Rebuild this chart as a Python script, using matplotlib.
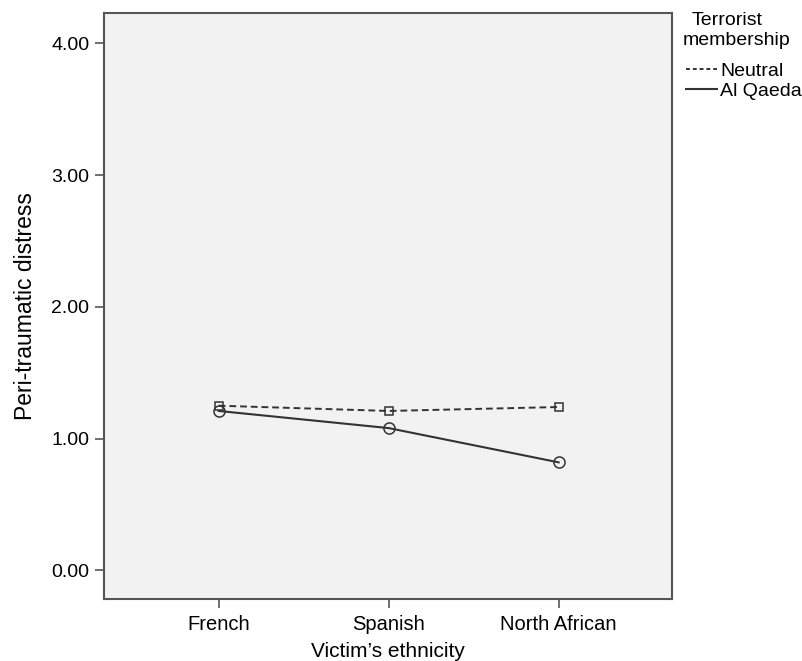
import matplotlib
matplotlib.use('Agg')
import matplotlib.pyplot as plt
from matplotlib.lines import Line2D

# ethnicity groups on the x axis
ethnicity = ['French', 'Spanish', 'North African']

# mean peri-traumatic distress per terrorist membership
neutral = [1.25, 1.21, 1.24]
al_qaeda = [1.21, 1.08, 0.82]

y_ticks = [0.0, 1.0, 2.0, 3.0, 4.0]

plt.rcParams['font.family'] = ['Liberation Sans', 'DejaVu Sans']

fig = plt.figure(figsize=(8.03, 6.61), dpi=100)
ax = fig.add_axes([0.1295, 0.0938, 0.7074, 0.8865])
ax.set_facecolor('#f2f2f2')

dash = (0, (3.5, 2))
x = list(range(len(ethnicity)))
ax.plot(x, neutral, linestyle=dash, color='#333333', linewidth=1.4,
        marker='s', markersize=6, markerfacecolor='none', markeredgecolor='#333333',
        markeredgewidth=1.1)
ax.plot(x, al_qaeda, linestyle='-', color='#333333', linewidth=1.5,
        marker='o', markersize=8, markerfacecolor='none', markeredgecolor='#333333',
        markeredgewidth=1.1)

ax.set_xlim(-0.675, 2.667)
ax.set_ylim(-0.217, 4.23)
ax.set_xticks(x)
ax.set_xticklabels(ethnicity, fontsize=14.5)
ax.set_yticks(y_ticks)
ax.set_yticklabels(['%.2f' % v for v in y_ticks], fontsize=14)
ax.tick_params(color='#555555', length=6.5, width=1.2, pad=4)
ax.tick_params(axis='x', pad=5)

for s in ax.spines.values():
    s.set_color('#555555')
    s.set_linewidth(1.5)

ax.set_xlabel("Victim\u2019s ethnicity", fontsize=15, labelpad=6)
ax.set_ylabel('Peri-traumatic distress', fontsize=16.5, labelpad=10)

# legend title drawn as text, handles without markers
fig.text(692 / 803, 1 - 12 / 661, 'Terrorist', fontsize=14, va='top', ha='left')
fig.text(683 / 803, 1 - 32 / 661, 'membership', fontsize=14, va='top', ha='left')
handles = [Line2D([], [], color='#333333', linestyle=(0, (2, 1.5)), linewidth=1.4),
           Line2D([], [], color='#333333', linestyle='-', linewidth=1.5)]
leg = fig.legend(handles, ['Neutral', 'Al Qaeda'], loc='upper left',
                 bbox_to_anchor=(686 / 803, 1 - 62 / 661), frameon=False, fontsize=14,
                 handlelength=1.6, handletextpad=0.15, labelspacing=0.15,
                 borderaxespad=0, borderpad=0)

fig.savefig('out.png', dpi=100)
